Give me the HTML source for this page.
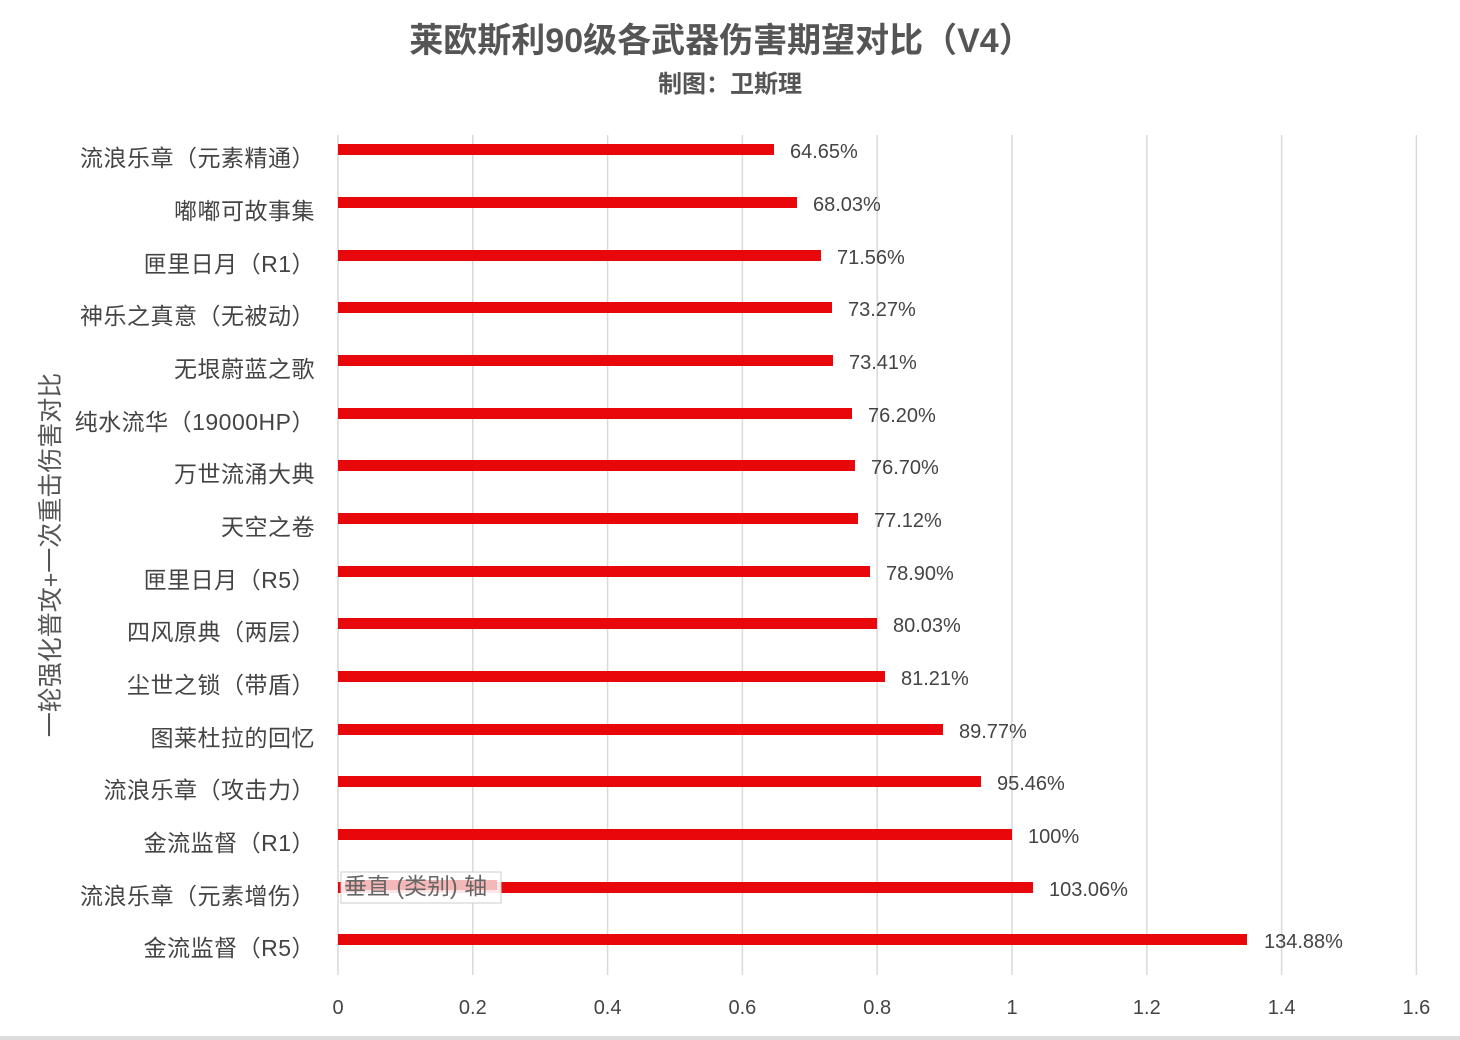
<!DOCTYPE html>
<html><head><meta charset="utf-8"><style>
html,body{margin:0;padding:0;background:#fff}
svg{display:block}
text{font-family:"Liberation Sans","Noto Sans CJK SC",sans-serif}
</style></head><body>
<svg width="1460" height="1040" xmlns="http://www.w3.org/2000/svg">
<rect width="1460" height="1040" fill="#fff"/>
<text x="721" y="52" text-anchor="middle" font-size="34" font-weight="bold" fill="#555">莱欧斯利90级各武器伤害期望对比（V4）</text>
<text x="730" y="92" text-anchor="middle" font-size="24" font-weight="bold" fill="#555">制图：卫斯理</text>
<g stroke="#d9d9d9" stroke-width="1.5">
<line x1="338" y1="135" x2="338" y2="975"/>
<line x1="472.8" y1="135" x2="472.8" y2="975"/>
<line x1="607.6" y1="135" x2="607.6" y2="975"/>
<line x1="742.4" y1="135" x2="742.4" y2="975"/>
<line x1="877.2" y1="135" x2="877.2" y2="975"/>
<line x1="1012" y1="135" x2="1012" y2="975"/>
<line x1="1146.8" y1="135" x2="1146.8" y2="975"/>
<line x1="1281.6" y1="135" x2="1281.6" y2="975"/>
<line x1="1416.4" y1="135" x2="1416.4" y2="975"/>
</g>
<g font-size="20" fill="#444" text-anchor="middle">
<text x="338" y="1014">0</text><text x="472.8" y="1014">0.2</text><text x="607.6" y="1014">0.4</text><text x="742.4" y="1014">0.6</text><text x="877.2" y="1014">0.8</text><text x="1012" y="1014">1</text><text x="1146.8" y="1014">1.2</text><text x="1281.6" y="1014">1.4</text><text x="1416.4" y="1014">1.6</text>
</g>
<rect x="0" y="1036" width="1460" height="4" fill="#ddd"/>
<text transform="translate(59,555) rotate(-90)" text-anchor="middle" font-size="25" fill="#555">一轮强化普攻+一次重击伤害对比</text>
<g fill="#e8080c">
<rect x="338" y="144" width="436" height="11"/>
<rect x="338" y="197" width="459" height="11"/>
<rect x="338" y="250" width="483" height="11"/>
<rect x="338" y="302" width="494" height="11"/>
<rect x="338" y="355" width="495" height="11"/>
<rect x="338" y="408" width="514" height="11"/>
<rect x="338" y="460" width="517" height="11"/>
<rect x="338" y="513" width="520" height="11"/>
<rect x="338" y="566" width="532" height="11"/>
<rect x="338" y="618" width="539" height="11"/>
<rect x="338" y="671" width="547" height="11"/>
<rect x="338" y="724" width="605" height="11"/>
<rect x="338" y="776" width="643" height="11"/>
<rect x="338" y="829" width="674" height="11"/>
<rect x="338" y="882" width="695" height="11"/>
<rect x="338" y="934" width="909" height="11"/>
</g>
<g font-size="20" fill="#444">
<text x="790" y="158">64.65%</text>
<text x="813" y="211">68.03%</text>
<text x="837" y="264">71.56%</text>
<text x="848" y="316">73.27%</text>
<text x="849" y="369">73.41%</text>
<text x="868" y="422">76.20%</text>
<text x="871" y="474">76.70%</text>
<text x="874" y="527">77.12%</text>
<text x="886" y="580">78.90%</text>
<text x="893" y="632">80.03%</text>
<text x="901" y="685">81.21%</text>
<text x="959" y="738">89.77%</text>
<text x="997" y="790">95.46%</text>
<text x="1028" y="843">100%</text>
<text x="1049" y="896">103.06%</text>
<text x="1264" y="948">134.88%</text>
</g>
<g font-size="23" fill="#444" text-anchor="end" letter-spacing="0.5">
<text x="315" y="166">流浪乐章（元素精通）</text>
<text x="315" y="219">嘟嘟可故事集</text>
<text x="315" y="272">匣里日月（R1）</text>
<text x="315" y="324">神乐之真意（无被动）</text>
<text x="315" y="377">无垠蔚蓝之歌</text>
<text x="315" y="430">纯水流华（19000HP）</text>
<text x="315" y="482">万世流涌大典</text>
<text x="315" y="535">天空之卷</text>
<text x="315" y="588">匣里日月（R5）</text>
<text x="315" y="640">四风原典（两层）</text>
<text x="315" y="693">尘世之锁（带盾）</text>
<text x="315" y="746">图莱杜拉的回忆</text>
<text x="315" y="798">流浪乐章（攻击力）</text>
<text x="315" y="851">金流监督（R1）</text>
<text x="315" y="904">流浪乐章（元素增伤）</text>
<text x="315" y="956">金流监督（R5）</text>
</g>
<rect x="341" y="872" width="160" height="31" fill="#fff" fill-opacity="0.9" stroke="#ccc"/>
<rect x="345" y="880" width="152" height="10" fill="#f4b8b8"/>
<text x="344" y="894" font-size="23" fill="#666">垂直 (类别) 轴</text>
</svg>
</body></html>
